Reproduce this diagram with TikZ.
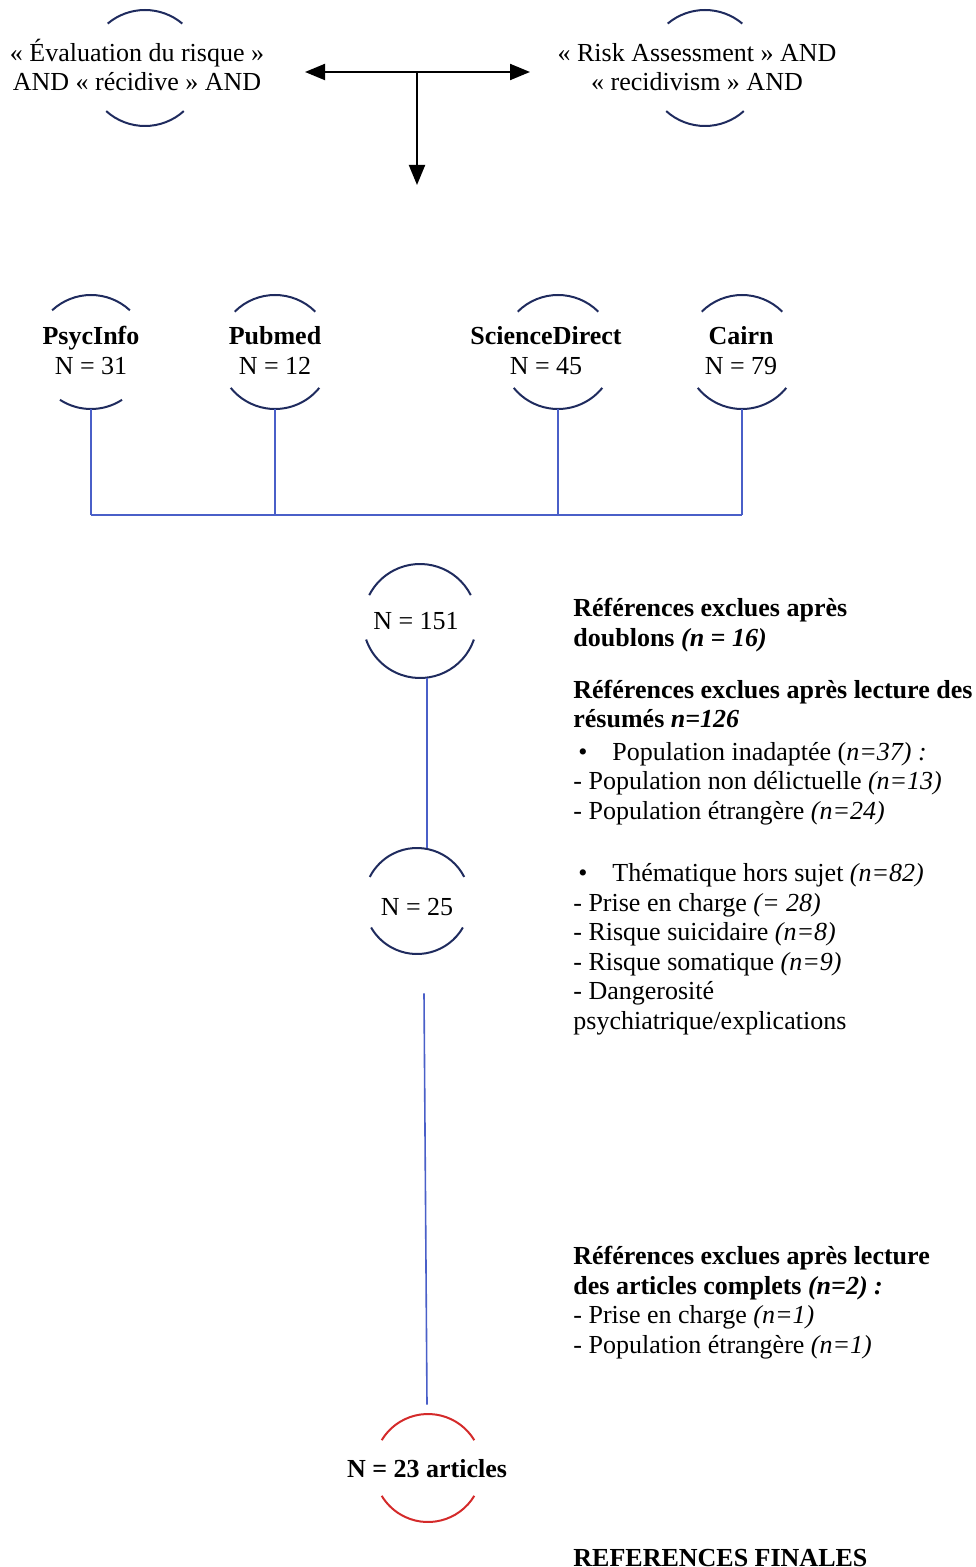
\documentclass[tikz,border=0pt]{standalone}
\usepackage{fontspec}
\setmainfont{Liberation Serif}
\usetikzlibrary{arrows.meta,calc}
\definecolor{navy}{HTML}{1F2B5E}
\definecolor{lblue}{HTML}{4A5FC8}
\definecolor{fred}{HTML}{D42A2A}
% #1 colour, #2 node, #3 radius, #4 top half-gap angle, #5 bottom half-gap angle
\newcommand\gapcirc[5][navy]{%
  \draw[#1, line width=1pt] ([shift={(#4:#3)}]#2.center) arc[start angle=#4, end angle={180-#4}, radius=#3];
  \draw[#1, line width=1pt] ([shift={(-#5:#3)}]#2.center) arc[start angle={-#5}, end angle={-180+#5}, radius=#3];
}
\begin{document}
\begin{tikzpicture}[x=0.5pt,y=-0.5pt,
  txt/.style={font=\fontsize{13}{14.75}\selectfont, inner sep=0pt},
  gc/.style={circle, draw=none, inner sep=0pt, minimum size=#1},
  blueline/.style={draw=lblue, line width=0.8pt},
  arr/.style={draw=black, line width=1pt}]
\useasboundingbox (0,0) rectangle (975,1567);

% ---- search queries (multi-line nodes: base = last line)
\node[gc=58pt] (qfr) at (145,68) {};
\node[gc=58pt] (qen) at (705,68) {};
\gapcirc{qfr}{29pt}{50}{48}
\gapcirc{qen}{29pt}{50}{48}
\node[txt, align=center, anchor=base] (qfrT) at (137,91) {« Évaluation du risque »\\AND « récidive » AND};
\node[txt, align=center, anchor=base] (qenT) at (697,91) {« Risk Assessment » AND\\« recidivism » AND};

% ---- arrows
\coordinate (jn) at (417,72);
\coordinate (tipL) at (305,72);
\coordinate (tipR) at (530,72);
\coordinate (tipD) at (417,185);
\draw[arr, {Triangle[length=10pt,width=8pt]}-{Triangle[length=10pt,width=8pt]}] (tipL) -- (tipR);
\draw[arr, -{Triangle[length=10pt,width=8pt]}] (jn) -- (tipD);

% ---- databases
\node[gc=57pt] (psy) at (91,352) {};
\node[gc=57pt] (pub) at (275,352) {};
\node[gc=57pt] (sd) at (558,352) {};
\node[gc=57pt] (cairn) at (742,352) {};
\gapcirc{psy}{28.5pt}{47}{57}
\gapcirc{pub}{28.5pt}{45}{39}
\gapcirc{sd}{28.5pt}{45}{39}
\gapcirc{cairn}{28.5pt}{45}{39}
\node[txt, align=center, anchor=base] (psyT) at (91,374) {\textbf{PsycInfo}\\N = 31};
\node[txt, align=center, anchor=base] (pubT) at (275,374) {\textbf{Pubmed}\\N = 12};
\node[txt, align=center, anchor=base] (sdT) at (546,374) {\textbf{ScienceDirect}\\N = 45};
\node[txt, align=center, anchor=base] (cairnT) at (741,374) {\textbf{Cairn}\\N = 79};

\coordinate (bus) at (0,515);
\draw[blueline] (psy.south) -- (psy |- bus);
\draw[blueline] (pub.south) -- (pub |- bus);
\draw[blueline] (sd.south) -- (sd |- bus);
\draw[blueline] (cairn.south) -- (cairn |- bus);
\draw[blueline] (psy |- bus) -- (cairn |- bus);

% ---- flow
\node[gc=57pt] (c151) at (420,621) {};
\gapcirc{c151}{28.5pt}{27}{19}
\node[txt, anchor=base] (c151T) at (416,629) {N = 151};

\node[gc=53pt] (c25) at (417,901) {};
\gapcirc{c25}{26.5pt}{27}{30}
\node[txt, anchor=base] (c25T) at (417,915) {N = 25};

\node[gc=54pt] (cfin) at (428,1468) {};
\gapcirc[fred]{cfin}{27pt}{31}{31}
\node[txt, anchor=base] (cfinT) at (427,1477) {\textbf{N = 23 articles}};

\draw[blueline] ([xshift=3.5pt]c151.south) -- ([xshift=5pt]c25.north);
\draw[blueline] ([shift={(3.5pt,-19.5pt)}]c25.south) -- ([shift={(-0.5pt,4.5pt)}]cfin.north);

% ---- exclusion texts (anchor at baseline of last line)
\node[txt, align=left, anchor=base west] (ex1) at (573,646)
  {\textbf{Références exclues après}\\\textbf{doublons \textit{(n = 16)}}};
\node[txt, align=left, anchor=base west] (ex2) at (573,819)
  {\textbf{Références exclues après lecture des}\\
   \textbf{résumés \textit{n=126}}\\[1.5pt]
   \makebox[19.5pt][l]{\hspace{2.5pt}•}Population inadaptée (\textit{n=37) :}\\
   - Population non délictuelle \textit{(n=13)}\\
   - Population étrangère \textit{(n=24)}};
\node[txt, align=left, anchor=base west] (ex3) at (573,1029)
  {\makebox[19.5pt][l]{\hspace{2.5pt}•}Thématique hors sujet \textit{(n=82)}\\
   - Prise en charge \textit{(= 28)}\\
   - Risque suicidaire \textit{(n=8)}\\
   - Risque somatique \textit{(n=9)}\\
   - Dangerosité\\
   psychiatrique/explications};
\node[txt, align=left, anchor=base west] (ex4) at (573,1353)
  {\textbf{Références exclues après lecture}\\
   \textbf{des articles complets \textit{(n=2) :}}\\
   - Prise en charge \textit{(n=1)}\\
   - Population étrangère \textit{(n=1)}};
\node[txt, anchor=base west] (fin) at (573,1566) {\textbf{REFERENCES FINALES}};
\end{tikzpicture}
\end{document}
